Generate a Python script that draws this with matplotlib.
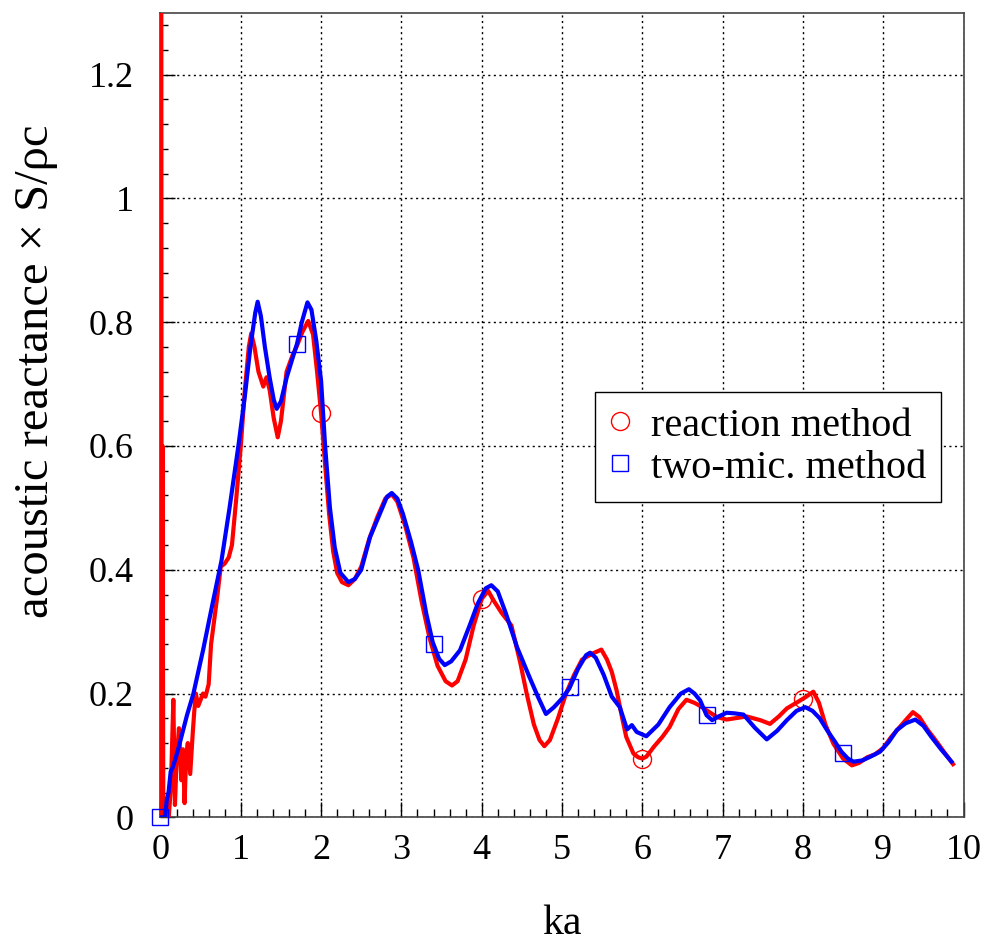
import numpy as np
import matplotlib
matplotlib.use("Agg")
import matplotlib.pyplot as plt
from matplotlib.lines import Line2D
from matplotlib.ticker import MultipleLocator

plt.rcParams['font.family'] = ['Liberation Serif', 'DejaVu Serif']

# reaction method (red)
ka_r = [0.004, 0.015, 0.025, 0.035, 0.06, 0.1, 0.13, 0.16, 0.18, 0.2, 0.23, 0.26, 0.28,
        0.3, 0.32, 0.34, 0.37, 0.4, 0.42, 0.44, 0.47, 0.5, 0.53, 0.56, 0.6, 0.63, 0.67,
        0.71, 0.75, 0.8, 0.85, 0.89, 0.94, 1.0, 1.05, 1.1, 1.13, 1.17, 1.22, 1.28, 1.32,
        1.36, 1.41, 1.46, 1.5, 1.57, 1.64, 1.70, 1.77, 1.84, 1.9, 1.95, 2.0, 2.05, 2.1,
        2.15, 2.2, 2.26, 2.34, 2.42, 2.5, 2.6, 2.7, 2.8, 2.88, 2.95, 3.05, 3.15, 3.25,
        3.35, 3.45, 3.55, 3.63, 3.7, 3.8, 3.9, 4.0, 4.08, 4.15, 4.25, 4.37, 4.48, 4.56,
        4.65, 4.72, 4.78, 4.85, 4.95, 5.05, 5.15, 5.25, 5.37, 5.49, 5.56, 5.62, 5.68,
        5.75, 5.8, 5.89, 5.95, 6.0, 6.05, 6.15, 6.25, 6.34, 6.45, 6.55, 6.65, 6.72, 6.8,
        6.93, 7.05, 7.15, 7.3, 7.47, 7.59, 7.7, 7.8, 7.93, 8.03, 8.13, 8.2, 8.28, 8.38,
        8.5, 8.61, 8.7, 8.8, 8.9, 9.0, 9.1, 9.2, 9.3, 9.37, 9.45, 9.55, 9.65, 9.75, 9.87]
x_r = [3.0, -0.008, 0.6, -0.005, 0.0, -0.005, 0.05, 0.19, 0.02, 0.09, 0.144, 0.06, 0.11,
       0.023, 0.1, 0.12, 0.07, 0.133, 0.17, 0.2, 0.18, 0.19, 0.2, 0.195, 0.215, 0.28, 0.32,
       0.36, 0.405, 0.41, 0.42, 0.44, 0.51, 0.6, 0.69, 0.76, 0.782, 0.76, 0.72, 0.696, 0.711,
       0.69, 0.645, 0.614, 0.64, 0.72, 0.745, 0.762, 0.785, 0.802, 0.78, 0.72, 0.653, 0.57, 0.49,
       0.43, 0.395, 0.38, 0.375, 0.385, 0.405, 0.45, 0.485, 0.515, 0.522, 0.51, 0.47, 0.42, 0.35,
       0.29, 0.245, 0.22, 0.213, 0.22, 0.255, 0.31, 0.353, 0.366, 0.35, 0.33, 0.31, 0.25, 0.2,
       0.15, 0.125, 0.115, 0.125, 0.16, 0.2, 0.23, 0.255, 0.264, 0.271, 0.255, 0.235, 0.205,
       0.16, 0.13, 0.103, 0.097, 0.095, 0.098, 0.115, 0.13, 0.146, 0.175, 0.19, 0.185, 0.18, 0.173,
       0.162, 0.158, 0.16, 0.163, 0.157, 0.151, 0.163, 0.176, 0.186, 0.194, 0.203, 0.185, 0.15, 0.119,
       0.095, 0.084, 0.088, 0.097, 0.102, 0.112, 0.13, 0.145, 0.16, 0.17, 0.162, 0.142, 0.125, 0.107, 0.086]

# two-microphone method (blue)
ka_b = [0.0, 0.056, 0.08, 0.1, 0.127, 0.15, 0.18, 0.22, 0.26, 0.33, 0.41, 0.53, 0.64, 0.76,
        0.86, 0.97, 1.05, 1.12, 1.18, 1.21, 1.25, 1.3, 1.36, 1.41, 1.447, 1.5, 1.57, 1.64,
        1.70, 1.76, 1.83, 1.88, 1.94, 2.0, 2.05, 2.11, 2.17, 2.24, 2.34, 2.42, 2.5, 2.61,
        2.73, 2.82, 2.88, 2.95, 3.02, 3.12, 3.21, 3.31, 3.39, 3.47, 3.54, 3.62, 3.73, 3.85,
        3.95, 4.05, 4.12, 4.2, 4.3, 4.44, 4.6, 4.7, 4.8, 4.9, 5.0, 5.09, 5.2, 5.3, 5.35,
        5.42, 5.52, 5.62, 5.72, 5.81, 5.87, 5.93, 6.05, 6.2, 6.34, 6.48, 6.58, 6.65, 6.72,
        6.8, 6.87, 6.95, 7.05, 7.15, 7.26, 7.4, 7.55, 7.68, 7.8, 7.92, 8.03, 8.12, 8.21, 8.3,
        8.4, 8.48, 8.56, 8.63, 8.74, 8.84, 8.96, 9.07, 9.17, 9.28, 9.4, 9.5, 9.6, 9.72, 9.85]
x_b = [0.0, 0.0, 0.03, 0.04, 0.074, 0.08, 0.092, 0.11, 0.13, 0.165, 0.2, 0.27, 0.34, 0.415,
       0.5, 0.6, 0.68, 0.76, 0.815, 0.833, 0.81, 0.76, 0.71, 0.675, 0.66, 0.672, 0.71, 0.74,
       0.765, 0.8, 0.832, 0.82, 0.77, 0.705, 0.6, 0.5, 0.436, 0.395, 0.38, 0.385, 0.4, 0.453,
       0.49, 0.518, 0.524, 0.515, 0.49, 0.445, 0.399, 0.329, 0.283, 0.256, 0.246, 0.252, 0.27, 0.31,
       0.345, 0.37, 0.375, 0.365, 0.33, 0.275, 0.225, 0.195, 0.167, 0.178, 0.192, 0.208, 0.24, 0.262, 0.266,
       0.258, 0.23, 0.195, 0.178, 0.142, 0.149, 0.138, 0.131, 0.15, 0.178, 0.2, 0.207, 0.2, 0.189,
       0.165, 0.157, 0.163, 0.169, 0.168, 0.166, 0.145, 0.126, 0.14, 0.157, 0.172, 0.178, 0.172, 0.16, 0.141,
       0.122, 0.106, 0.095, 0.09, 0.092, 0.098, 0.106, 0.122, 0.141, 0.152, 0.158, 0.148, 0.13, 0.11, 0.09]

# marker positions along each curve
mark_r = [2.0, 4.0, 6.0, 8.0]
mark_b = [0.0, 1.7, 3.4, 5.1, 6.8, 8.5]

fig = plt.figure(figsize=(9.87, 9.47), dpi=100)
ax = fig.add_axes([0.1626, 0.1369, 0.8136, 0.8497])

ax.plot(ka_r, x_r, color='#ff0000', lw=3.0, zorder=3)
ax.plot(mark_r, np.interp(mark_r, ka_r, x_r), ls='none', marker='o', ms=13,
        mfc='none', mec='#ff0000', mew=1.0, zorder=4)
ax.plot(ka_b, x_b, color='#0000ff', lw=3.0, zorder=5)
ax.plot(mark_b, np.interp(mark_b, ka_b, x_b), ls='none', marker='s', ms=12,
        mfc='none', mec='#0000ff', mew=1.0, zorder=6, clip_on=False)

ax.set_xlim(0, 10)
ax.set_ylim(0, 1.3)
ax.xaxis.set_major_locator(MultipleLocator(1))
ax.xaxis.set_minor_locator(MultipleLocator(0.2))
ax.yaxis.set_major_locator(MultipleLocator(0.2))
ax.yaxis.set_minor_locator(MultipleLocator(0.04))
ax.set_yticks([0, 0.2, 0.4, 0.6, 0.8, 1.0, 1.2])
ax.set_yticklabels(['0', '0.2', '0.4', '0.6', '0.8', '1', '1.2'])

ax.tick_params(which='both', direction='in', top=False, right=False, labelsize=26)
ax.tick_params(which='major', length=11, width=1.0)
ax.tick_params(which='minor', length=6, width=1.0)
ax.tick_params(axis='y', pad=19)
ax.tick_params(axis='x', pad=12)

ax.grid(True, which='major', color='black', ls=(0, (1.5, 2.5)), lw=1.0, zorder=1)
for s in ax.spines.values():
    s.set_linewidth(1.2)
    s.set_color('#444444')

ax.set_xlabel('ka', fontsize=30, labelpad=27)
ax.set_ylabel('acoustic reactance × S/ρc', fontsize=35)
ax.yaxis.set_label_coords(-0.128, 0.555)

handles = [Line2D([], [], ls='none', marker='o', ms=13, mfc='none', mec='#ff0000', mew=1.0),
           Line2D([], [], ls='none', marker='s', ms=12, mfc='none', mec='#0000ff', mew=1.0)]
leg = ax.legend(handles, ['reaction method', 'two-mic. method'], loc='upper left',
                bbox_to_anchor=(0.541, 0.5286), borderaxespad=0, fontsize=29,
                frameon=True, fancybox=False, edgecolor='black', framealpha=1,
                handlelength=0.5, handletextpad=0.5, labelspacing=0.12,
                borderpad=0.38)
leg.get_frame().set_linewidth(1.0)
leg.set_zorder(10)

plt.savefig('out.png', dpi=100)
